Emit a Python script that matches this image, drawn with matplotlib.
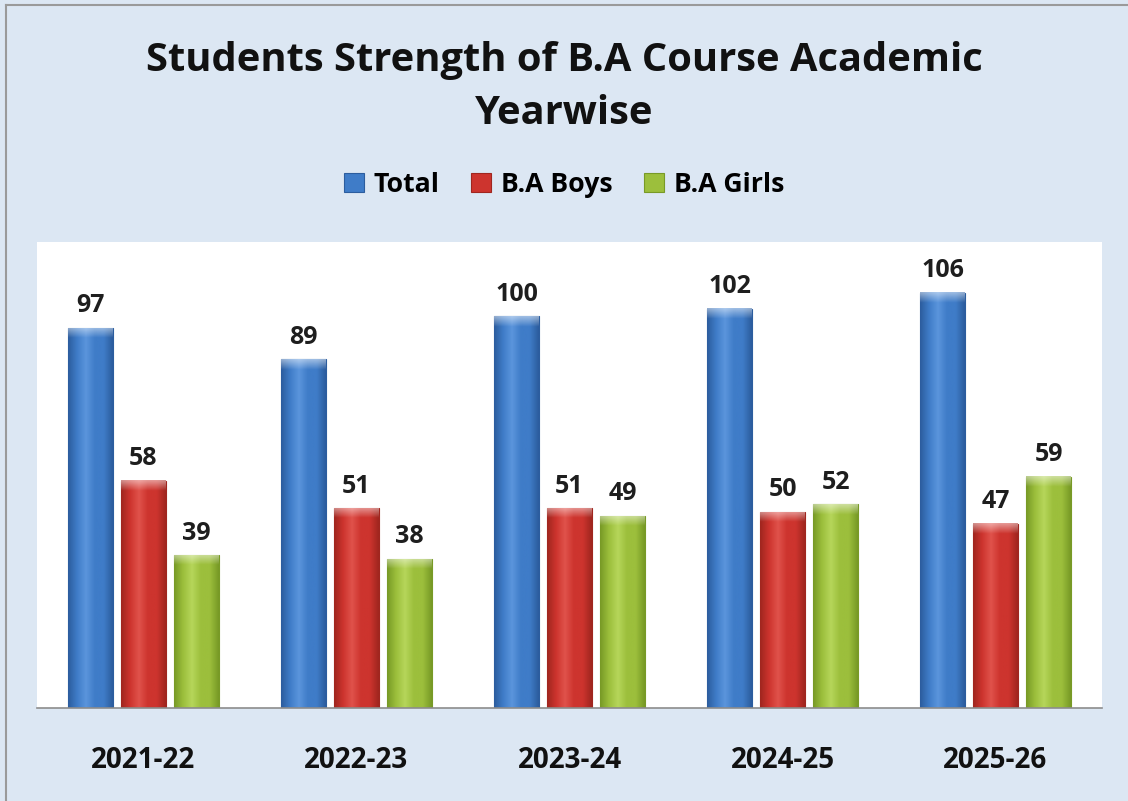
import numpy as np
import matplotlib.pyplot as plt
from matplotlib.colors import LinearSegmentedColormap
from matplotlib.lines import Line2D

# data
years = ["2021-22", "2022-23", "2023-24", "2024-25", "2025-26"]
series = ["Total", "B.A Boys", "B.A Girls"]
total = [97, 89, 100, 102, 106]
boys = [58, 51, 51, 50, 47]
girls = [39, 38, 49, 52, 59]

# colours: (edge, light centre, main)
colours = [
    ("#2c5d9e", "#5b95dc", "#3f7cc8"),
    ("#a0261f", "#e0524b", "#cd342e"),
    ("#789a26", "#b6d65a", "#9cbf3c"),
]

plt.rcParams["font.family"] = ["Open Sans", "DejaVu Sans"]
plt.rcParams["font.weight"] = "bold"

fig = plt.figure(figsize=(11.28, 8.01), dpi=100)
fig.patch.set_facecolor("#dce7f3")

ax = fig.add_axes([37 / 1128, 1 - 708 / 801, 1065 / 1128, 466 / 801])
ax.set_facecolor("white")

x = np.arange(len(years))
width = 0.207
step = 0.249
grad = np.linspace(0, 1, 80).reshape(1, -1)

for i, (name, vals) in enumerate(zip(series, [total, boys, girls])):
    edge, light, main = colours[i]
    cmap = LinearSegmentedColormap.from_list(
        name, [edge, main, light, main, main, edge])
    bars = ax.bar(x + (i - 1) * step, vals, width, color=main,
                  edgecolor=edge, linewidth=0.8, label=name, zorder=2)
    for b, v in zip(bars, vals):
        x0 = b.get_x()
        x1 = x0 + b.get_width()
        ax.imshow(grad, cmap=cmap, aspect="auto", zorder=2.5,
                  extent=[x0, x1, 0, v], clip_path=b, clip_on=True)
        # top bevel
        cap = np.ones((20, 1, 4))
        cap[:, 0, 3] = np.linspace(0.5, 0.0, 20)
        ax.imshow(cap, aspect="auto", zorder=2.6,
                  extent=[x0, x1, v - 2.6, v], clip_path=b, clip_on=True)
        ax.annotate(str(v), (b.get_x() + b.get_width() / 2, v),
                    xytext=(0, 7), textcoords="offset points",
                    ha="center", va="bottom", fontsize=18,
                    fontweight="bold", color="#1e1e1e")

ax.set_xlim(-0.5, len(years) - 0.5)
ax.set_ylim(0, 119)
ax.set_yticks([])
ax.set_xticks(x)
ax.set_xticklabels(years, fontsize=20, fontweight="bold", color="#111111")
ax.tick_params(axis="x", length=0, pad=27)
for s in ["top", "right", "left"]:
    ax.spines[s].set_visible(False)
ax.spines["bottom"].set_color("#8c8c8c")
ax.spines["bottom"].set_linewidth(1.2)

# title
fig.text(0.5, 1 - 61 / 801, "Students Strength of B.A Course Academic",
         ha="center", va="center", fontsize=28.7, fontweight="bold",
         color="#111111")
fig.text(0.5, 1 - 113 / 801, "Yearwise",
         ha="center", va="center", fontsize=28.7, fontweight="bold",
         color="#111111")

# legend
handles, labels = ax.get_legend_handles_labels()
fig.legend(handles, labels, loc="center", bbox_to_anchor=(0.5, 1 - 185 / 801),
           ncol=3, frameon=False, handlelength=0.75,
           handleheight=0.75, handletextpad=0.35, columnspacing=1.2,
           prop={"weight": "bold", "size": 19.2})

# outer border
fig.add_artist(Line2D([6 / 1128, 6 / 1128], [0, 1 - 5 / 801],
                      transform=fig.transFigure, color="#9a9a9a", lw=1.5))
fig.add_artist(Line2D([6 / 1128, 1], [1 - 5 / 801, 1 - 5 / 801],
                      transform=fig.transFigure, color="#9a9a9a", lw=1.5))

fig.savefig("out.png", dpi=100, facecolor=fig.get_facecolor())
